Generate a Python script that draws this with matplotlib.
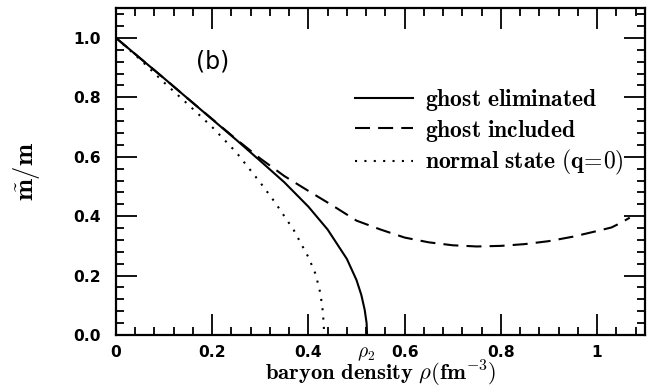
import numpy as np
import matplotlib.pyplot as plt
from matplotlib.ticker import MultipleLocator, FixedLocator, FixedFormatter
import matplotlib.transforms as mtransforms

plt.rcParams['mathtext.fontset'] = 'cm'

# effective mass ratio vs baryon density
rho_elim = [0.0, 0.05, 0.1, 0.15, 0.2, 0.25, 0.3, 0.35, 0.4, 0.44, 0.48,
            0.5, 0.51, 0.517, 0.521, 0.522]
m_elim = [1.0, 0.932, 0.864, 0.795, 0.726, 0.657, 0.586, 0.514, 0.432, 0.355,
          0.256, 0.185, 0.135, 0.085, 0.04, 0.0]

rho_incl = [0.0, 0.05, 0.1, 0.15, 0.2, 0.25, 0.3, 0.35, 0.4, 0.45, 0.5, 0.55,
            0.6, 0.65, 0.7, 0.75, 0.8, 0.85, 0.9, 0.95, 1.0, 1.03, 1.05, 1.068]
m_incl = [1.0, 0.932, 0.864, 0.795, 0.727, 0.659, 0.594, 0.535, 0.485, 0.436,
          0.385, 0.355, 0.328, 0.312, 0.302, 0.298, 0.300, 0.306, 0.316, 0.331,
          0.350, 0.362, 0.378, 0.395]

rho_norm = [0.0, 0.05, 0.1, 0.15, 0.2, 0.25, 0.3, 0.33, 0.37, 0.4, 0.415,
            0.425, 0.43, 0.432, 0.433]
m_norm = [1.0, 0.928, 0.850, 0.776, 0.700, 0.615, 0.513, 0.448, 0.352, 0.262,
          0.205, 0.140, 0.08, 0.03, 0.0]

rho2 = 0.522
xticks = [0, 0.2, 0.4, 0.6, 0.8, 1.0]
xticklabels = ['0', '0.2', '0.4', '0.6', '0.8', '1']
yticks = [0.0, 0.2, 0.4, 0.6, 0.8, 1.0]
yticklabels = ['0.0', '0.2', '0.4', '0.6', '0.8', '1.0']

fig = plt.figure(figsize=(6.55, 3.9), dpi=100)
ax = fig.add_axes([0.177, 0.141, 0.808, 0.838])

lw = 1.5
ax.plot(rho_elim, m_elim, color='black', lw=lw, label=r'$\mathbf{ghost\ eliminated}$')
ax.plot(rho_incl, m_incl, color='black', lw=lw, dashes=(7.2, 3.9),
        label=r'$\mathbf{ghost\ included}$')
ax.plot(rho_norm, m_norm, color='black', lw=lw, dashes=(1, 3.5),
        label=r'$\mathbf{normal\ state\ (q\!=\!0)}$')

ax.set_xlim(0, 1.1)
ax.set_ylim(0, 1.1)

ax.xaxis.set_major_locator(FixedLocator(xticks))
ax.xaxis.set_major_formatter(FixedFormatter(xticklabels))
ax.yaxis.set_major_locator(FixedLocator(yticks))
ax.yaxis.set_major_formatter(FixedFormatter(yticklabels))
ax.xaxis.set_minor_locator(MultipleLocator(0.04))
ax.yaxis.set_minor_locator(MultipleLocator(0.04))

ax.tick_params(which='both', direction='in', top=True, right=True, width=1.3)
ax.tick_params(which='major', length=15)
ax.tick_params(which='minor', length=6)
ax.tick_params(axis='x', which='major', pad=7)
ax.tick_params(axis='y', which='major', pad=11)
for lab in ax.get_xticklabels() + ax.get_yticklabels():
    lab.set_fontfamily('DejaVu Sans')
    lab.set_fontweight('bold')
    lab.set_fontsize(11.2)

for sp in ax.spines.values():
    sp.set_linewidth(1.6)

# rho_2 marker under the axis where the solid curve hits zero
trans = mtransforms.blended_transform_factory(ax.transData, ax.transAxes)
ax.text(rho2 - 0.003, -0.026, r'$\rho_{\mathbf{2}}$', transform=trans,
        ha='center', va='top', fontsize=14)

ax.text(0.2, 0.922, '(b)', fontsize=17, family='DejaVu Sans',
        ha='center', va='center')

ax.set_xlabel(r'$\mathbf{baryon\ density}\ \rho(\mathbf{fm}^{\mathbf{-3}})$',
              fontsize=16.3, va='baseline')
ax.xaxis.set_label_coords(0.5, -0.139)
ax.set_ylabel(r'$\tilde{\mathbf{m}}/\mathbf{m}$', fontsize=19, labelpad=22)

ax.legend(loc='center left', bbox_to_anchor=(0.452, 0.621), frameon=False,
          fontsize=17, handlelength=2.46, handletextpad=0.5, labelspacing=0.2,
          borderpad=0, borderaxespad=0)

fig.savefig('out.png', dpi=100)
